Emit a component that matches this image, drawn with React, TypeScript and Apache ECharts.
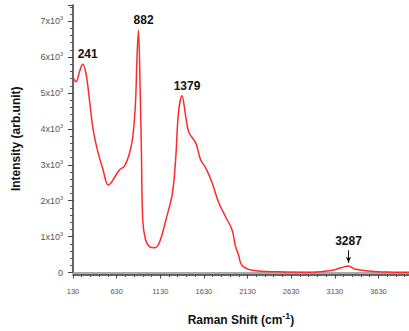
import React, { useEffect, useRef } from 'react';
import * as echarts from 'echarts';

// Raman spectrum (cm^-1, arb. unit)
const ramanShift = [
  130, 164, 205, 240, 278, 323, 361, 418, 474, 531, 560, 588, 664, 721, 778, 815, 846, 865, 880,
  899, 914, 929, 960, 1005, 1062, 1119, 1195, 1270, 1308, 1338, 1379, 1422, 1460, 1536, 1592,
  1649, 1724, 1800, 1877, 1952, 1990, 2028, 2065, 2180, 2480, 2860, 3090, 3200, 3287, 3355,
  3540, 3800, 3990,
];
const intensity = [
  5440, 5310, 5600, 5800, 5550, 4720, 3970, 3330, 2860, 2440, 2480, 2580, 2860, 2970, 3330, 3780,
  4720, 6100, 6750, 5170, 3330, 1470, 920, 720, 690, 830, 1470, 2220, 3220, 4440, 4920, 4340,
  3890, 3610, 3140, 2920, 2500, 1940, 1560, 1190, 750, 480, 200, 65, 20, 10, 55, 130, 180, 100,
  35, 10, 5,
];

// peak annotations
const peakShifts = [241, 882, 1379];
const peakHeights = [5800, 6750, 4920];
const arrowPeakShift = 3287;
const arrowTop = 620;
const arrowTip = 270;

// axis set-up values
const xOrigin = 130; // first tick label
const xMaxShifted = 3850;
const xTickStep = 500;
const yMax = 7450;
const yTickStep = 1000;

const FONT = 'Arial, "Liberation Sans", Helvetica, sans-serif';

export default function App() {
  const ref = useRef<HTMLDivElement>(null);

  useEffect(() => {
    if (!ref.current) return;
    const chart = echarts.init(ref.current, null, { renderer: 'svg' });

    const lineData = ramanShift.map((x, i) => [x - xOrigin, intensity[i]]);

    const option: any = {
      animation: false,
      grid: { left: 73, right: 0, top: 5, bottom: 58, containLabel: false },
      xAxis: [
        {
          type: 'value',
          min: 0,
          max: xMaxShifted,
          interval: xTickStep,
          offset: 2,
          axisLine: { show: true, onZero: false, lineStyle: { color: '#333', width: 1.5 } },
          axisTick: { show: true, length: 4, lineStyle: { color: '#444', width: 1 } },
          minorTick: { show: true, splitNumber: 5, length: 2.5, lineStyle: { color: '#555', width: 1 } },
          splitLine: { show: false },
          axisLabel: {
            formatter: (v: number) => String(v + xOrigin),
            fontSize: 7.5,
            color: '#555',
            margin: 13,
            fontFamily: FONT,
            showMaxLabel: false,
          },
          name: '{a|Raman Shift (cm}{s|-1}{a|)}',
          nameLocation: 'middle',
          nameGap: 37,
          nameTextStyle: {
            rich: {
              a: { fontSize: 12, fontWeight: 'bold', color: '#111', fontFamily: FONT },
              s: { fontSize: 9, fontWeight: 'bold', color: '#111', fontFamily: FONT, padding: [0, 0, 8, 0] },
            },
          },
        },
        {
          type: 'value',
          position: 'top',
          min: 0,
          max: xMaxShifted,
          axisLine: { show: true, lineStyle: { color: '#aaa', width: 2 } },
          axisTick: { show: false },
          axisLabel: { show: false },
          splitLine: { show: false },
        },
      ],
      yAxis: {
        type: 'value',
        min: 0,
        max: yMax,
        interval: yTickStep,
        axisLine: { show: true, lineStyle: { color: '#333', width: 1.5 } },
        axisTick: { show: true, length: 5, lineStyle: { color: '#444', width: 1 } },
        minorTick: { show: true, splitNumber: 5, length: 3, lineStyle: { color: '#555', width: 1 } },
        splitLine: { show: false },
        axisLabel: {
          showMaxLabel: false,
          margin: 10,
          formatter: (v: number) => (v === 0 ? '{b|0}' : `{b|${v / 1000}x10}{s|3}`),
          rich: {
            b: { fontSize: 9, color: '#555', fontFamily: FONT },
            s: { fontSize: 5.5, color: '#555', fontFamily: FONT, padding: [0, 0, 6, 0] },
          },
        },
        name: 'Intensity (arb.unit)',
        nameLocation: 'middle',
        nameGap: 51,
        nameTextStyle: { fontSize: 12, fontWeight: 'bold', color: '#111', fontFamily: FONT },
      },
      series: [
        {
          type: 'line',
          data: lineData,
          smooth: 0.35,
          showSymbol: false,
          symbol: 'none',
          lineStyle: { color: '#ff2a2a', width: 1.5 },
          markPoint: {
            symbol: 'circle',
            symbolSize: 0,
            itemStyle: { color: 'transparent' },
            label: {
              show: true,
              position: 'top',
              distance: 4,
              offset: [5, 0],
              formatter: (p: any) => p.name,
              fontSize: 12,
              fontWeight: 'bold',
              color: '#111',
              fontFamily: FONT,
            },
            data: peakShifts.map((s, i) => ({
              name: String(s),
              coord: [s - xOrigin, peakHeights[i]],
            })),
          },
          markLine: {
            silent: true,
            symbol: ['none', 'arrow'],
            symbolSize: [4, 6],
            lineStyle: { color: '#111', width: 1, type: 'solid' },
            label: {
              show: true,
              position: 'start',
              distance: 3,
              formatter: String(arrowPeakShift),
              fontSize: 12,
              fontWeight: 'bold',
              color: '#111',
              fontFamily: FONT,
            },
            data: [
              [
                { coord: [arrowPeakShift - xOrigin, arrowTop] },
                { coord: [arrowPeakShift - xOrigin, arrowTip] },
              ],
            ],
          },
        },
      ],
    };

    chart.setOption(option);
    return () => chart.dispose();
  }, []);

  return (
    <div
      ref={ref}
      style={{ position: 'absolute', left: 0, top: 0, width: 409, height: 331, background: '#fff' }}
    />
  );
}
